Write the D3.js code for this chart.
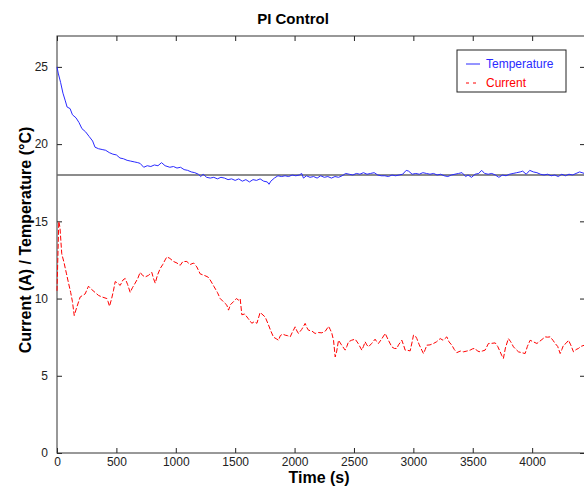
<!DOCTYPE html>
<html>
<head>
<meta charset="utf-8">
<script src="https://cdn.jsdelivr.net/npm/d3@7"></script>
<style>
  body { margin: 0; background: #fff; }
  svg { font-family: "Liberation Sans", Arial, sans-serif; }
</style>
</head>
<body>
<div id="chart"></div>
<script>
// Temperature readings (s, degC)
const tempTime = [0, 10, 30, 50, 70, 85, 110, 130, 160, 185, 210, 240, 270, 300, 320, 350, 380, 410, 440, 470,
  500, 530, 560, 590, 620, 650, 680, 700, 730, 760, 790, 820, 850, 880, 910, 950, 980, 1010, 1040, 1070,
  1100, 1130, 1160, 1190, 1210, 1230, 1260, 1290, 1320, 1350, 1380, 1410, 1440, 1470, 1500, 1530, 1560, 1590, 1620, 1650,
  1680, 1710, 1740, 1770, 1785, 1800, 1830, 1860, 1890, 1920, 1950, 1980, 2010, 2040, 2060, 2075, 2100, 2130, 2160, 2190,
  2220, 2250, 2280, 2310, 2340, 2370, 2400, 2430, 2460, 2490, 2520, 2550, 2580, 2610, 2640, 2670, 2700, 2730, 2760, 2790,
  2820, 2850, 2880, 2910, 2940, 2960, 2990, 3020, 3050, 3080, 3110, 3140, 3170, 3200, 3230, 3260, 3290, 3320, 3350, 3380,
  3410, 3440, 3460, 3490, 3520, 3550, 3575, 3600, 3630, 3660, 3690, 3720, 3750, 3780, 3810, 3840, 3870, 3900, 3920, 3950,
  3980, 4010, 4040, 4070, 4100, 4130, 4160, 4190, 4220, 4250, 4280, 4310, 4340, 4370, 4400, 4440];
const tempValue = [25.0, 24.6, 24.0, 23.3, 22.8, 22.4, 22.3, 21.9, 21.7, 21.4, 21.0, 20.8, 20.5, 20.2, 19.8, 19.7, 19.65, 19.6, 19.45, 19.35,
  19.3, 19.1, 19.05, 18.95, 18.9, 18.85, 18.8, 18.75, 18.5, 18.6, 18.55, 18.65, 18.6, 18.8, 18.6, 18.5, 18.55, 18.45, 18.5, 18.35,
  18.3, 18.2, 18.15, 18.05, 17.9, 18.05, 17.85, 17.8, 17.85, 17.75, 17.85, 17.8, 17.7, 17.75, 17.65, 17.75, 17.6, 17.7, 17.55, 17.7,
  17.65, 17.75, 17.6, 17.55, 17.4, 17.6, 17.8, 17.95, 17.9, 17.95, 17.9, 18.0, 17.95, 18.0, 18.1, 17.8, 17.95, 17.85, 17.9, 17.8,
  17.95, 17.85, 17.9, 17.8, 17.9, 17.85, 17.95, 18.1, 18.05, 18.0, 18.1, 18.05, 18.15, 18.05, 18.1, 18.15, 18.0, 17.95, 17.95, 17.9,
  18.0, 17.95, 18.0, 18.05, 18.3, 18.25, 18.05, 18.1, 18.05, 18.15, 18.1, 18.05, 18.1, 18.0, 18.05, 17.95, 17.9, 18.0, 18.05, 18.1,
  18.15, 17.9, 18.0, 17.85, 18.05, 18.1, 18.3, 18.1, 18.05, 18.1, 18.0, 17.85, 18.0, 17.95, 18.05, 18.1, 18.15, 18.2, 18.25, 18.05,
  18.3, 18.2, 18.15, 18.05, 18.0, 18.05, 17.95, 18.0, 17.9, 18.05, 17.95, 18.05, 18.0, 18.1, 18.2, 18.1];

// Heater current readings (s, A)
const currTime = [0, 15, 25, 40, 60, 80, 97, 115, 130, 145, 165, 195, 215, 237, 265, 290, 320, 350, 380, 420,
  430, 442, 460, 475, 490, 510, 532, 555, 574, 595, 616, 635, 658, 680, 700, 720, 742, 770, 798, 812,
  827, 845, 869, 890, 910, 925, 950, 981, 1010, 1037, 1060, 1093, 1120, 1150, 1177, 1205, 1240, 1270, 1290, 1320,
  1350, 1374, 1400, 1430, 1444, 1460, 1486, 1510, 1528, 1542, 1556, 1580, 1610, 1640, 1660, 1683, 1710, 1725, 1753, 1780,
  1800, 1823, 1845, 1865, 1880, 1900, 1921, 1940, 1963, 1980, 2005, 2020, 2033, 2060, 2089, 2105, 2117, 2145, 2173, 2200,
  2230, 2260, 2286, 2300, 2314, 2328, 2342, 2355, 2370, 2395, 2426, 2440, 2454, 2480, 2510, 2535, 2566, 2580, 2594, 2608,
  2622, 2650, 2678, 2692, 2706, 2735, 2763, 2790, 2819, 2840, 2861, 2875, 2903, 2917, 2931, 2950, 2973, 2990, 3001, 3015,
  3029, 3050, 3071, 3085, 3100, 3113, 3140, 3169, 3195, 3226, 3250, 3282, 3300, 3324, 3345, 3366, 3395, 3422, 3450, 3478,
  3500, 3520, 3540, 3562, 3580, 3604, 3632, 3660, 3689, 3710, 3731, 3745, 3758, 3775, 3800, 3820, 3843, 3865, 3885, 3910,
  3941, 3960, 3983, 4010, 4040, 4075, 4110, 4130, 4152, 4175, 4194, 4215, 4236, 4250, 4264, 4285, 4306, 4325, 4348, 4370,
  4390, 4410, 4440];
const currValue = [10.5, 15.0, 14.6, 12.9, 12.3, 11.6, 11.0, 10.4, 9.8, 8.9, 9.4, 10.1, 10.2, 10.3, 10.8, 10.6, 10.4, 10.2, 10.1, 10.0,
  9.8, 9.5, 10.0, 10.5, 11.1, 11.0, 10.85, 11.2, 11.3, 10.9, 10.4, 10.7, 11.0, 11.3, 11.7, 11.5, 11.4, 11.5, 11.7, 11.3,
  11.0, 11.5, 11.95, 12.2, 12.5, 12.7, 12.6, 12.4, 12.3, 12.15, 12.4, 12.4, 12.2, 12.3, 12.05, 11.6, 11.5, 11.4, 11.2, 10.8,
  10.4, 10.0, 9.8, 9.57, 9.25, 9.6, 9.8, 10.0, 9.9, 10.0, 8.95, 9.0, 8.7, 8.4, 8.5, 8.4, 9.1, 9.0, 8.8, 8.3,
  7.9, 7.5, 7.4, 7.3, 7.6, 7.7, 7.63, 7.6, 7.52, 7.8, 8.17, 7.9, 7.74, 8.0, 8.39, 8.1, 7.95, 7.9, 7.74, 7.8,
  7.78, 7.9, 8.2, 8.0, 7.74, 7.3, 6.22, 6.6, 7.3, 7.0, 6.66, 6.9, 7.2, 7.3, 7.37, 7.1, 6.66, 6.9, 7.2, 7.0,
  6.87, 7.1, 7.37, 7.2, 7.09, 7.4, 7.74, 7.3, 6.87, 6.77, 6.77, 7.0, 7.3, 7.0, 6.66, 6.65, 6.61, 7.2, 7.63, 7.6,
  7.41, 7.0, 6.66, 6.44, 6.7, 6.98, 7.0, 7.09, 7.2, 7.41, 7.3, 7.52, 7.2, 6.98, 6.7, 6.5, 6.6, 6.55, 6.6, 6.66,
  6.75, 6.77, 6.6, 6.55, 6.6, 6.66, 7.09, 7.1, 7.13, 6.9, 6.55, 6.3, 6.12, 6.8, 7.41, 7.2, 6.87, 6.7, 6.55, 6.5,
  6.44, 6.9, 7.3, 7.2, 7.09, 7.3, 7.52, 7.5, 7.52, 7.3, 7.09, 6.9, 6.44, 6.7, 6.98, 7.1, 7.3, 7.0, 6.55, 6.7,
  6.77, 6.9, 6.98];

const setpoint = 18;
const xTicks = [0, 500, 1000, 1500, 2000, 2500, 3000, 3500, 4000];
const yTicks = [0, 5, 10, 15, 20, 25];
const legendLabels = ['Temperature', 'Current'];

const W = 584, H = 487;
const margin = { left: 57, right: -1, top: 36, bottom: 34 };
const innerW = W - margin.left - margin.right;
const innerH = H - margin.top - margin.bottom;

const svg = d3.select('#chart').append('svg')
    .attr('width', W)
    .attr('height', H);

const g = svg.append('g')
    .attr('transform', `translate(${margin.left},${margin.top})`);

const x = d3.scaleLinear().domain([0, 4445]).range([0, innerW]);
const y = d3.scaleLinear().domain([0, 27]).range([innerH, 0]);

// axes with inward ticks
const styleAxis = sel => {
    sel.select('.domain').remove();
    sel.selectAll('.tick line').attr('stroke', '#222');
    sel.selectAll('.tick text').attr('fill', '#222').style('font-size', '12px');
};

g.append('g')
    .attr('transform', `translate(0,${innerH})`)
    .call(d3.axisBottom(x).tickValues(xTicks).tickSize(-5).tickPadding(4).tickFormat(d3.format('d')))
    .call(styleAxis);

g.append('g')
    .call(d3.axisTop(x).tickValues(xTicks).tickSize(-5).tickFormat(''))
    .call(styleAxis);

g.append('g')
    .call(d3.axisLeft(y).tickValues(yTicks).tickSize(-5).tickPadding(9))
    .call(styleAxis);

g.append('g')
    .attr('transform', `translate(${innerW},0)`)
    .call(d3.axisRight(y).tickValues(yTicks).tickSize(-5).tickFormat(''))
    .call(styleAxis);

g.append('rect')
    .attr('width', innerW)
    .attr('height', innerH)
    .attr('fill', 'none')
    .attr('stroke', '#333')
    .attr('stroke-width', 1);

// setpoint
g.append('line')
    .attr('x1', 0).attr('x2', innerW)
    .attr('y1', y(setpoint)).attr('y2', y(setpoint))
    .attr('stroke', '#666')
    .attr('stroke-width', 1.5);

const line = d3.line()
    .x(d => x(d[0]))
    .y(d => y(d[1]));

g.append('path')
    .datum(tempTime.map((t, i) => [t, tempValue[i]]))
    .attr('d', line)
    .attr('fill', 'none')
    .attr('stroke', '#2a2aff')
    .attr('stroke-width', 1);

g.append('path')
    .datum(currTime.map((t, i) => [t, currValue[i]]))
    .attr('d', line)
    .attr('fill', 'none')
    .attr('stroke', '#ff0000')
    .attr('stroke-width', 1)
    .attr('stroke-dasharray', '5,2');

// title and labels
svg.append('text')
    .attr('x', 293).attr('y', 24)
    .attr('text-anchor', 'middle')
    .style('font-size', '15px').style('font-weight', 'bold')
    .text('PI Control');

svg.append('text')
    .attr('x', 319).attr('y', 483)
    .attr('text-anchor', 'middle')
    .style('font-size', '16px').style('font-weight', 'bold')
    .text('Time (s)');

svg.append('text')
    .attr('transform', `translate(31,240) rotate(-90)`)
    .attr('text-anchor', 'middle')
    .style('font-size', '16px').style('font-weight', 'bold')
    .text('Current (A) / Temperature (°C)');

// legend
const legend = svg.append('g').attr('transform', 'translate(457,50)');
legend.append('rect')
    .attr('width', 109).attr('height', 42)
    .attr('fill', '#fff')
    .attr('stroke', '#222');
const legendColors = ['#2a2aff', '#ff0000'];
legendLabels.forEach((lab, i) => {
    legend.append('line')
        .attr('x1', 9).attr('x2', 23)
        .attr('y1', 14 + i * 19).attr('y2', 14 + i * 19)
        .attr('stroke', legendColors[i])
        .attr('stroke-dasharray', i ? '3,4' : null);
    legend.append('text')
        .attr('x', 29).attr('y', 18 + i * 19)
        .attr('fill', legendColors[i])
        .style('font-size', '12px')
        .text(lab);
});
</script>
</body>
</html>
